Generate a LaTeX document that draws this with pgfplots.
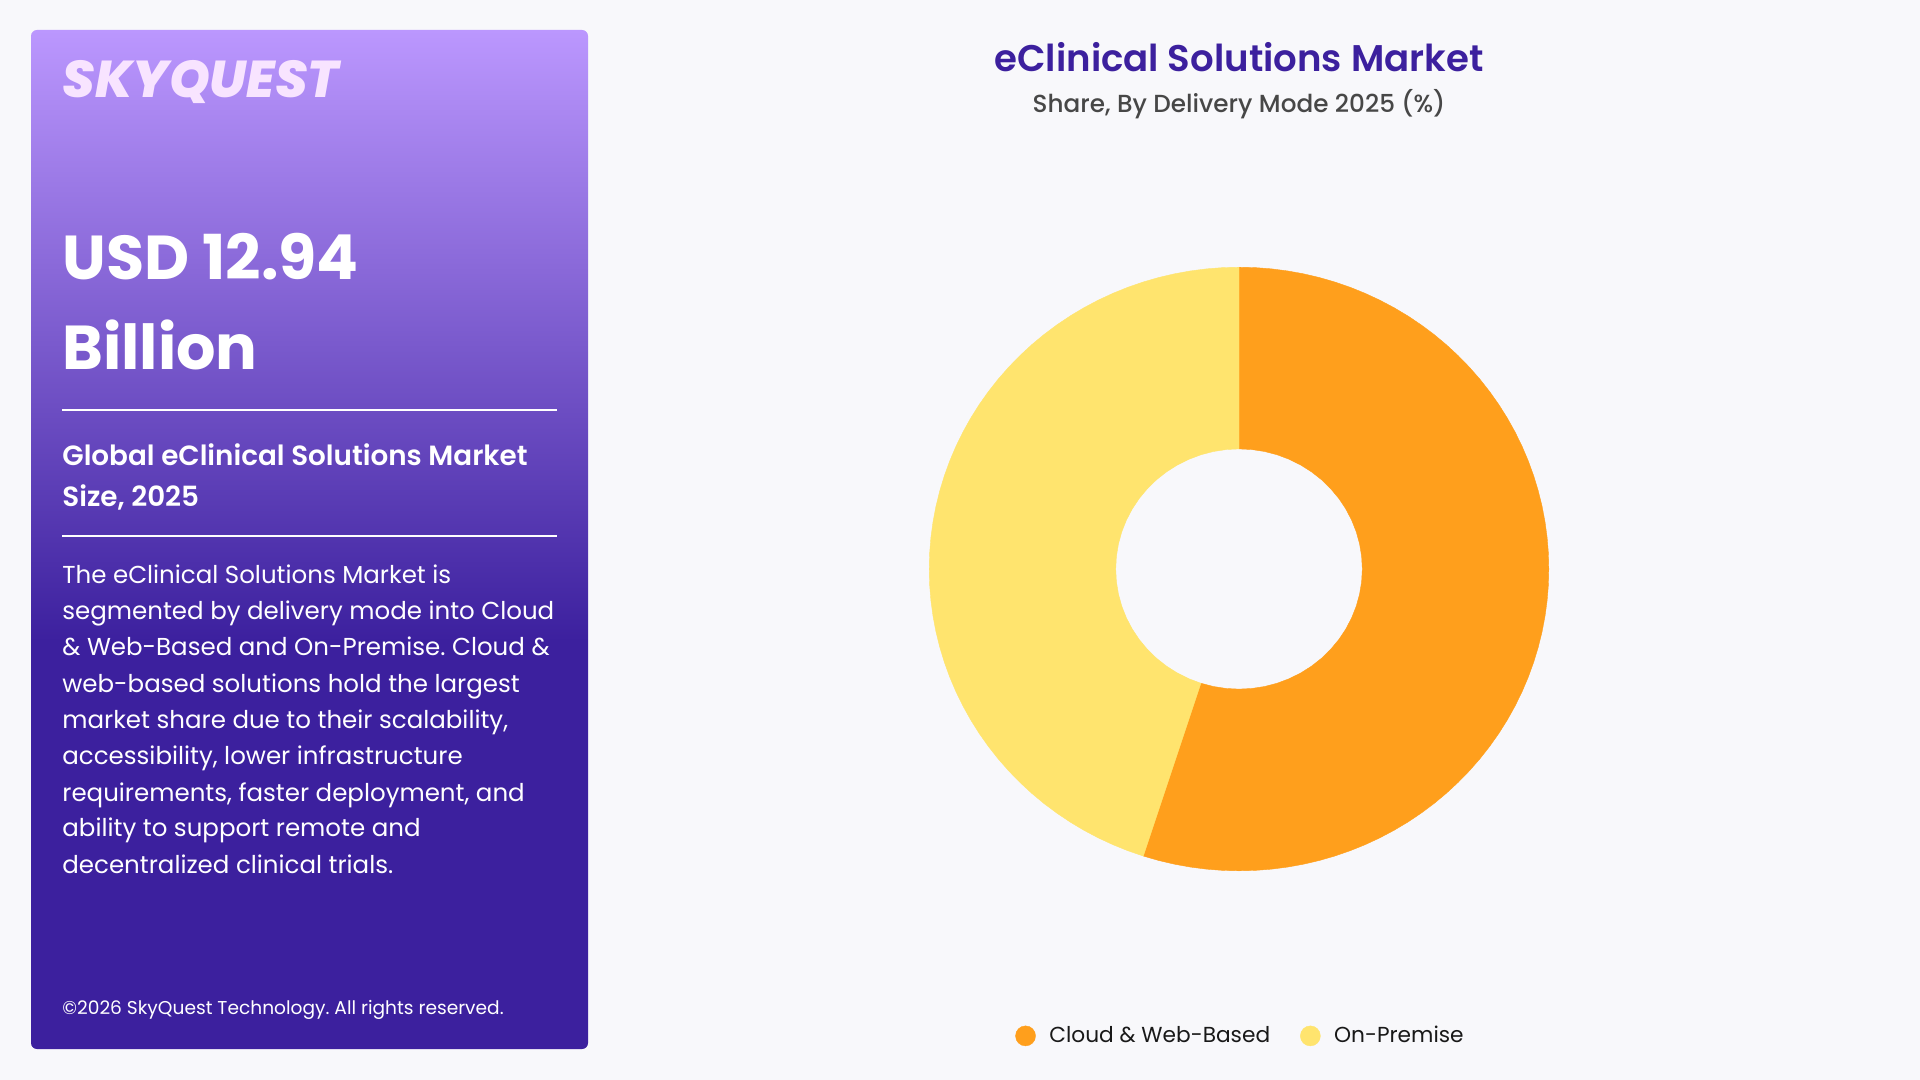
\documentclass[border=0pt]{standalone}
\usepackage{fontspec}
\usepackage{pgfplots}
\pgfplotsset{compat=1.18}
\setmainfont{Poppins}
\newfontfamily\popsemi{Poppins SemiBold}
\newfontfamily\popmed{Poppins Medium}
\newfontfamily\poplogo{Poppins ExtraBold Italic}
\definecolor{bgc}{HTML}{F8F8FB}
\definecolor{ptop}{HTML}{BB97FE}
\definecolor{pdark}{HTML}{3C209E}
\definecolor{cloudc}{HTML}{FF9F1C}
\definecolor{premc}{HTML}{FFE46E}
\definecolor{logoc}{HTML}{F8E4FF}
\pgfdeclareverticalshading{panelshade}{100bp}{color(0bp)=(pdark); color(45bp)=(pdark); color(75bp)=(ptop); color(100bp)=(ptop)}
\newcommand{\fs}[1]{\fontsize{#1}{#1}\selectfont}
\frenchspacing
\begin{document}
\begin{tikzpicture}[x=0.5pt,y=-0.5pt]
\useasboundingbox (0,0) rectangle (1920,1080);
\fill[bgc] (0,0) rectangle (1920,1080);
\shade[shading=panelshade,rounded corners=3pt] (31,30) rectangle (588,1049);
\node[anchor=base west,inner sep=0,text=logoc] at (62,98) {\fs{25.9}\poplogo SKYQUEST};
\node[anchor=base west,inner sep=0,text=white] at (62,280) {\fs{31}\bfseries USD 12.94};
\node[anchor=base west,inner sep=0,text=white] at (62,370) {\fs{31}\bfseries Billion};
\draw[white,line width=0.6pt] (62,410) -- (557,410);
\node[anchor=base west,inner sep=0,text=white] at (62,465) {\fs{13.9}\popsemi Global eClinical Solutions Market};
\node[anchor=base west,inner sep=0,text=white] at (62,506) {\fs{13.9}\popsemi Size, 2025};
\draw[white,line width=0.6pt] (62,536) -- (557,536);
\foreach \yy/\tx in {583/{The eClinical Solutions Market is},
  619/{segmented by delivery mode into Cloud},
  655/{\& Web-Based and On-Premise. Cloud \&},
  692/{web-based solutions hold the largest},
  728/{market share due to their scalability,},
  764/{accessibility, lower infrastructure},
  801/{requirements, faster deployment, and},
  836/{ability to support remote and},
  873/{decentralized clinical trials.}}{
  \node[anchor=base west,inner sep=0,text=white] at (62,\yy) {\fs{12.25}\tx};
}
\node[anchor=base west,inner sep=0,text=white] at (62,1014) {\fs{9.3}©2026 SkyQuest Technology. All rights reserved.};
\node[anchor=base,inner sep=0,text=black!72] at (1239,113) {\fs{12.35}\popmed Share, By Delivery Mode 2025 (\%)};
\begin{axis}[
  at={(619.5pt,-284.5pt)},anchor=center,
  scale only axis,width=309.8pt,height=301.8pt,
  xmin=-1,xmax=1,ymin=-1,ymax=1,
  hide axis,clip=false,
  title={\fs{18.55}\popsemi eClinical Solutions Market},
  title style={at={(axis description cs:0.5,1.3046)},anchor=base,inner sep=0,text=pdark},
  legend columns=2,
  legend cell align=left,
  legend style={at={(axis description cs:0.504,-0.2735)},anchor=center,draw=none,fill=none,
    font=\fs{10.85},text=black!90,inner sep=0pt,
    /tikz/every odd column/.style={column sep=4.8pt},
    /tikz/every even column/.style={column sep=13pt}},
  legend image code/.code={\fill[#1] (0pt,0pt) circle (5pt);},
]
\addplot[data cs=polar,fill=cloudc,draw=cloudc,line width=0.2pt] coordinates {
(90,1)(87,1)(84,1)(81,1)(78,1)(75,1)(72,1)(69,1)(66,1)(63,1)(60,1)(57,1)(54,1)(51,1)(48,1)(45,1)(42,1)(39,1)(36,1)(33,1)(30,1)(27,1)(24,1)(21,1)(18,1)(15,1)(12,1)(9,1)(6,1)(3,1)(0,1)
(-3,1)(-6,1)(-9,1)(-12,1)(-15,1)(-18,1)(-21,1)(-24,1)(-27,1)(-30,1)(-33,1)(-36,1)(-39,1)(-42,1)(-45,1)(-48,1)(-51,1)(-54,1)(-57,1)(-60,1)(-63,1)(-66,1)(-69,1)(-72,1)(-75,1)(-78,1)(-81,1)(-84,1)(-87,1)(-90,1)(-93,1)(-96,1)(-99,1)(-102,1)(-105,1)(-108,1)
(-108,0.398)(-102,0.398)(-96,0.398)(-90,0.398)(-84,0.398)(-78,0.398)(-72,0.398)(-66,0.398)(-60,0.398)(-54,0.398)(-48,0.398)(-42,0.398)(-36,0.398)(-30,0.398)(-24,0.398)(-18,0.398)(-12,0.398)(-6,0.398)
(0,0.398)(6,0.398)(12,0.398)(18,0.398)(24,0.398)(30,0.398)(36,0.398)(42,0.398)(48,0.398)(54,0.398)(60,0.398)(66,0.398)(72,0.398)(78,0.398)(84,0.398)(90,0.398)
} --cycle;
\addlegendentry{Cloud \& Web-Based}
\addplot[data cs=polar,fill=premc,draw=premc,line width=0.2pt] coordinates {
(-108,1)(-111,1)(-114,1)(-117,1)(-120,1)(-123,1)(-126,1)(-129,1)(-132,1)(-135,1)(-138,1)(-141,1)(-144,1)(-147,1)(-150,1)(-153,1)(-156,1)(-159,1)(-162,1)(-165,1)(-168,1)(-171,1)(-174,1)(-177,1)(-180,1)(-183,1)(-186,1)(-189,1)(-192,1)(-195,1)(-198,1)(-201,1)(-204,1)(-207,1)(-210,1)(-213,1)(-216,1)(-219,1)(-222,1)(-225,1)(-228,1)(-231,1)(-234,1)(-237,1)(-240,1)(-243,1)(-246,1)(-249,1)(-252,1)(-255,1)(-258,1)(-261,1)(-264,1)(-267,1)(-270,1)
(-270,0.398)(-264,0.398)(-258,0.398)(-252,0.398)(-246,0.398)(-240,0.398)(-234,0.398)(-228,0.398)(-222,0.398)(-216,0.398)(-210,0.398)(-204,0.398)(-198,0.398)(-192,0.398)(-186,0.398)(-180,0.398)(-174,0.398)(-168,0.398)(-162,0.398)(-156,0.398)(-150,0.398)(-144,0.398)(-138,0.398)(-132,0.398)(-126,0.398)(-120,0.398)(-114,0.398)(-108,0.398)
} --cycle;
\addlegendentry{On-Premise}
\end{axis}
\end{tikzpicture}
\end{document}
